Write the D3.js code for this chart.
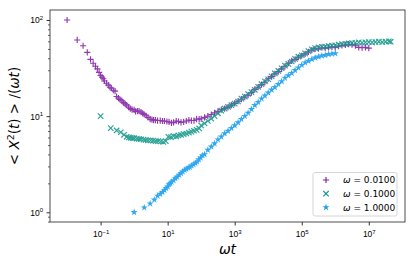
<!DOCTYPE html>
<html>
<head>
<meta charset="utf-8">
<script src="https://cdn.jsdelivr.net/npm/d3@7"></script>
<style>
  body { margin: 0; background: #fff; }
  svg { display: block; font-family: 'DejaVu Sans', sans-serif; }
</style>
</head>
<body>
<div id="chart"></div>
<script>
// omega = 0.01  (x = omega*t, y = <X^2(t)>/(omega t))
const wtPurple = [
  0.01, 0.02, 0.03, 0.04, 0.05, 0.06, 0.07, 0.08, 0.09, 0.1,
  0.11, 0.12, 0.13, 0.15, 0.17, 0.19, 0.21, 0.24, 0.27, 0.3,
  0.34, 0.38, 0.43, 0.48, 0.54, 0.6, 0.68, 0.77, 0.87, 1.0,
  1.1, 1.25, 1.4, 1.6, 1.8, 2.0, 2.3, 2.6, 3.0, 3.4,
  3.8, 4.3, 5.0, 6.0, 7.0, 8.0, 9.5, 11, 13, 15,
  18, 21, 25, 30, 36, 43, 51, 61, 73, 87,
  1e2, 1.26e2, 1.58e2, 2e2, 2.51e2, 3.16e2, 3.98e2, 5.01e2, 6.31e2, 7.94e2,
  1e3, 1.26e3, 1.58e3, 2e3, 2.51e3, 3.16e3, 3.98e3, 5.01e3, 6.31e3, 7.94e3,
  1e4, 1.26e4, 1.58e4, 2e4, 2.51e4, 3.16e4, 3.98e4, 5.01e4, 6.31e4, 7.94e4,
  1e5, 1.26e5, 1.58e5, 2e5, 2.51e5, 3.16e5, 3.98e5, 5.01e5, 6.31e5, 7.94e5,
  1e6, 1.26e6, 1.58e6, 2e6, 2.51e6, 3.16e6, 3.98e6, 5.01e6, 6.31e6, 7.94e6,
  1e7
];
const valPurple = [
  100, 62, 54, 46, 39, 35.5, 33, 31, 28.5, 26.5,
  25.5, 24.5, 23.2, 22, 21, 20, 19.5, 18.6, 18.2, 16,
  15.4, 14.9, 14.4, 13.8, 13.4, 13.0, 12.4, 12.0, 11.7, 11.6,
  11.2, 11.3, 11.3, 11.0, 10.7, 10.4, 10.1, 9.7, 9.3, 9.2,
  9.1, 9.1, 9.0, 9.0, 8.9, 8.9, 8.8, 8.7, 8.5, 8.6,
  8.9, 8.8, 8.6, 8.7, 8.9, 9.1, 9.0, 9.0, 9.3, 9.3,
  9.4, 9.7, 10.0, 10.4, 10.8, 11.2, 11.7, 12.0, 12.4, 13.0,
  13.6, 14.3, 15.0, 15.8, 16.5, 17.6, 19.0, 20.0, 21.3, 22.5,
  24.5, 25.8, 27.5, 29.0, 31.0, 33.0, 35.5, 37.5, 39.0, 41.0,
  42.5, 44.5, 46.5, 48.5, 50.0, 50.5, 51.5, 51.0, 52.0, 52.5,
  52.0, 53.5, 54.5, 55.0, 56.0, 55.5, 54.0, 52.0, 51.5, 52.0,
  51.0
];

// omega = 0.1
const wtTeal = [
  0.1, 0.2, 0.3, 0.4, 0.5, 0.6, 0.7, 0.8, 0.9, 1.0,
  1.2, 1.4, 1.6, 1.9, 2.2, 2.6, 3.1, 3.7, 4.4, 5.2,
  6.2, 7.4, 8.8, 10.5, 12.5, 15, 18, 21, 25, 30,
  36, 43, 51, 61, 73, 87,
  1e2, 1.26e2, 1.58e2, 2e2, 2.51e2, 3.16e2, 3.98e2, 5.01e2, 6.31e2, 7.94e2,
  1e3, 1.26e3, 1.58e3, 2e3, 2.51e3, 3.16e3, 3.98e3, 5.01e3, 6.31e3, 7.94e3,
  1e4, 1.26e4, 1.58e4, 2e4, 2.51e4, 3.16e4, 3.98e4, 5.01e4, 6.31e4, 7.94e4,
  1e5, 1.26e5, 1.58e5, 2e5, 2.51e5, 3.16e5, 3.98e5, 5.01e5, 6.31e5, 7.94e5,
  1e6, 1.26e6, 1.58e6, 2e6, 2.51e6, 3.16e6, 3.98e6, 5.01e6, 6.31e6, 7.94e6,
  1e7, 1.26e7, 1.58e7, 2e7, 2.51e7, 3.16e7, 3.98e7, 4.5e7
];
const valTeal = [
  10, 7.5, 7.1, 6.8, 6.4, 6.1, 6.0, 5.95, 5.9, 5.9,
  5.85, 5.8, 5.75, 5.7, 5.65, 5.6, 5.6, 5.55, 5.5, 5.5,
  5.45, 5.4, 5.5, 6.1, 6.05, 6.2, 6.15, 6.3, 6.4, 6.5,
  6.6, 6.75, 6.9, 7.05, 7.2, 7.45,
  8.0, 8.4, 8.9, 9.4, 10.0, 10.7, 11.4, 12.0, 12.5, 13.0,
  13.5, 14.2, 15.2, 16.0, 17.0, 17.8, 18.8, 20.2, 21.5, 23.0,
  24.2, 26.0, 27.8, 29.5, 31.5, 33.5, 35.0, 37.0, 39.5, 41.5,
  43.0, 45.0, 47.5, 49.5, 51.0, 52.0, 52.5, 53.0, 53.5, 54.0,
  54.5, 55.5, 56.0, 56.5, 57.0, 57.5, 58.0, 58.5, 58.0, 58.5,
  59.0, 58.5, 59.0, 59.5, 59.0, 59.5, 60.0, 59.5
];

// omega = 1
const wtBlue = [
  1, 2, 3, 4, 5, 6, 7, 8, 9, 10,
  11, 12, 13, 15, 17, 19, 22, 25, 28, 32,
  36, 41, 46, 52, 59, 67, 75, 85, 96, 110,
  1.26e2, 1.58e2, 2e2, 2.51e2, 3.16e2, 3.98e2, 5.01e2, 6.31e2, 7.94e2,
  1e3, 1.26e3, 1.58e3, 2e3, 2.51e3, 3.16e3, 3.98e3, 5.01e3, 6.31e3, 7.94e3,
  1e4, 1.26e4, 1.58e4, 2e4, 2.51e4, 3.16e4, 3.98e4, 5.01e4, 6.31e4, 7.94e4,
  1e5, 1.26e5, 1.58e5, 2e5, 2.51e5, 3.16e5, 3.98e5, 5.01e5, 6.31e5, 7.94e5,
  1e6
];
const valBlue = [
  1.0, 1.12, 1.23, 1.35, 1.48, 1.55, 1.62, 1.7, 1.78, 1.85,
  1.95, 2.0, 2.07, 2.15, 2.25, 2.33, 2.45, 2.55, 2.65, 2.75,
  2.82, 2.9, 2.95, 3.05, 3.15, 3.25, 3.35, 3.55, 3.7, 3.9,
  4.0, 4.45, 4.8, 5.2, 5.7, 6.1, 6.6, 7.0, 7.5,
  8.0, 8.6, 9.3, 10.0, 10.8, 11.8, 13.0, 14.0, 15.2, 16.3,
  17.5, 18.8, 20.0, 21.5, 23.0, 25.0, 26.5, 28.0, 30.0, 32.0,
  34.0, 36.0, 37.5, 39.0, 40.5, 41.5, 42.5, 43.0, 44.0, 44.5,
  45.0
];

const legendLabels = ['0.0100', '0.1000', '1.0000'];
const xTickExps = ['\u22121', '1', '3', '5', '7'];
const xTickValues = [1e-1, 1e1, 1e3, 1e5, 1e7];
const yTickExps = ['0', '1', '2'];
const yTickValues = [1, 10, 100];

const WIDTH = 415;
const HEIGHT = 265;
const COLORS = ['#8424a6', '#14998a', '#1a9ff0'];

const svg = d3.select('#chart')
  .append('svg')
  .attr('width', WIDTH)
  .attr('height', HEIGHT);

const x = d3.scaleLog()
  .domain([Math.pow(10, -2.51), Math.pow(10, 8.08)])
  .range([50, 405]);
const y = d3.scaleLog()
  .domain([Math.pow(10, -0.101), Math.pow(10, 2.104)])
  .range([222, 10]);

// marker shapes
const plusPath = 'M-3.1,0H3.1M0,-3.1V3.1';
const crossPath = 'M-2.7,-2.7L2.7,2.7M-2.7,2.7L2.7,-2.7';
const starPath = d3.symbol(d3.symbolStar, 16)();

const series = [
  { wt: wtPurple, val: valPurple, color: COLORS[0], kind: 'plus' },
  { wt: wtTeal, val: valTeal, color: COLORS[1], kind: 'cross' },
  { wt: wtBlue, val: valBlue, color: COLORS[2], kind: 'star' }
];

function drawMarker(sel, kind, color) {
  if (kind === 'star') {
    sel.append('path').attr('d', starPath).attr('fill', color);
  } else {
    sel.append('path')
      .attr('d', kind === 'plus' ? plusPath : crossPath)
      .attr('fill', 'none')
      .attr('stroke', color)
      .attr('stroke-width', 1.15);
  }
}

// points
series.forEach((s) => {
  const pts = s.wt.map((w, i) => [w, s.val[i]]);
  svg.append('g')
    .attr('opacity', 0.9)
    .selectAll('g')
    .data(pts)
    .join('g')
    .attr('transform', (d) => `translate(${x(d[0])},${y(d[1])})`)
    .each(function () { drawMarker(d3.select(this), s.kind, s.color); });
});

// axes
const xAxis = svg.append('g')
  .attr('transform', 'translate(0,222)')
  .call(d3.axisBottom(x).tickValues(xTickValues).tickFormat('').tickSize(3.5));
xAxis.select('.domain').remove();
xAxis.selectAll('.tick line').attr('stroke', '#000').attr('stroke-width', 0.8);
xAxis.selectAll('.tick').each(function (d, i) {
  const t = d3.select(this).append('text')
    .attr('y', 15)
    .attr('fill', '#000')
    .attr('font-size', 8.5)
    .attr('text-anchor', 'middle');
  t.append('tspan').text('10');
  t.append('tspan').attr('dy', -3.5).attr('font-size', 6).text(xTickExps[i]);
});

const yMinor = [];
[0.1, 1, 10].forEach((dec) => {
  for (let k = 2; k <= 9; k++) {
    const v = dec * k;
    if (v >= y.domain()[0] && v <= y.domain()[1]) yMinor.push(v);
  }
});
const yAxisMinor = svg.append('g')
  .attr('transform', 'translate(50,0)')
  .call(d3.axisLeft(y).tickValues(yMinor).tickFormat('').tickSize(2));
yAxisMinor.select('.domain').remove();
yAxisMinor.selectAll('.tick line').attr('stroke', '#000').attr('stroke-width', 0.6);

const yAxis = svg.append('g')
  .attr('transform', 'translate(50,0)')
  .call(d3.axisLeft(y).tickValues(yTickValues).tickFormat('').tickSize(3.5));
yAxis.select('.domain').remove();
yAxis.selectAll('.tick line').attr('stroke', '#000').attr('stroke-width', 0.8);
yAxis.selectAll('.tick').each(function (d, i) {
  const t = d3.select(this).append('text')
    .attr('x', -7)
    .attr('y', 3)
    .attr('fill', '#000')
    .attr('font-size', 8.5)
    .attr('text-anchor', 'end');
  t.append('tspan').text('10');
  t.append('tspan').attr('dy', -3.5).attr('font-size', 6).text(yTickExps[i]);
});

// frame
svg.append('rect')
  .attr('x', 50)
  .attr('y', 10)
  .attr('width', 355)
  .attr('height', 212)
  .attr('fill', 'none')
  .attr('stroke', '#222')
  .attr('stroke-width', 0.8);

// axis labels
const xl = svg.append('text')
  .attr('x', 227.5)
  .attr('y', 254)
  .attr('text-anchor', 'middle')
  .attr('font-size', 14)
  .attr('font-style', 'italic');
xl.text('\u03c9t');

const yl = svg.append('text')
  .attr('transform', 'translate(19,116) rotate(-90)')
  .attr('text-anchor', 'middle')
  .attr('font-size', 13.5);
yl.append('tspan').text('< ');
yl.append('tspan').attr('font-style', 'italic').text('X');
yl.append('tspan').attr('dy', -5).attr('font-size', 9.5).text('2');
yl.append('tspan').attr('dy', 5).text('(');
yl.append('tspan').attr('font-style', 'italic').text('t');
yl.append('tspan').text(') > /(');
yl.append('tspan').attr('font-style', 'italic').text('\u03c9t');
yl.append('tspan').text(')');

// legend
const lg = svg.append('g');
lg.append('rect')
  .attr('x', 313)
  .attr('y', 172.5)
  .attr('width', 84)
  .attr('height', 43.5)
  .attr('rx', 2)
  .attr('fill', '#fff')
  .attr('fill-opacity', 0.8)
  .attr('stroke', '#ccc')
  .attr('stroke-width', 0.8);
series.forEach((s, i) => {
  const row = lg.append('g').attr('transform', `translate(0,${180 + i * 13.7})`);
  const m = row.append('g').attr('transform', 'translate(326,0)');
  drawMarker(m, s.kind, s.color);
  const t = row.append('text')
    .attr('x', 343)
    .attr('y', 3.3)
    .attr('font-size', 9)
    .attr('fill', '#000');
  t.append('tspan').attr('font-style', 'italic').text('\u03c9');
  t.append('tspan').text(' = ' + legendLabels[i]);
});
</script>
</body>
</html>
